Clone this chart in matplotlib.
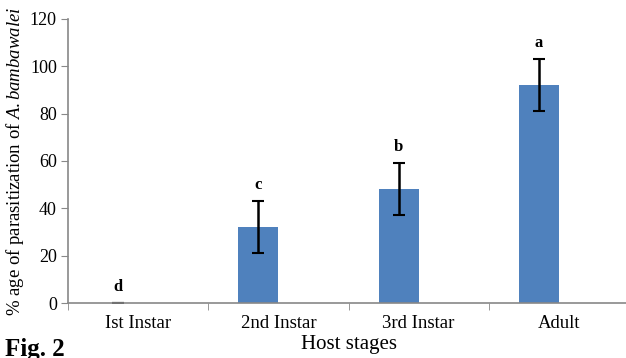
import numpy as np
import matplotlib.pyplot as plt

plt.rcParams['font.family'] = ['Liberation Serif', 'DejaVu Serif']
plt.rcParams['mathtext.fontset'] = 'custom'
plt.rcParams['mathtext.rm'] = 'Liberation Serif'
plt.rcParams['mathtext.it'] = 'Liberation Serif:italic'

stages = ['Ist Instar', '2nd Instar', '3rd Instar', 'Adult']
parasitism = [0, 32, 48, 92]
err = [0, 11, 11, 11]
letters = ['d', 'c', 'b', 'a']

fig = plt.figure(figsize=(6.26, 3.58), dpi=100)
ax = fig.add_axes([68/626, 1-303/358, 561/626, 284/358])

x = np.arange(len(stages))
w = 2/7
ax.bar(x - w/2, parasitism, width=w, color='#4F81BD',
       yerr=err, capsize=4, error_kw=dict(ecolor='black', elinewidth=1.8, capthick=1.5))
for xi, v, e, l in zip(x, parasitism, err, letters):
    ax.text(xi - w/2, v + e + 3.5, l, ha='center', va='bottom', fontsize=12, fontweight='bold')

ax.set_xlim(-0.5, 3.5)
ax.set_ylim(0, 120)
ax.set_yticks(range(0, 121, 20))
ax.set_xticks(x)
ax.set_xticklabels(stages)
ax.set_xticks(np.arange(-0.5, 3.6, 1), minor=True)
ax.tick_params(axis='x', which='major', length=0, pad=9, labelsize=13.5)
ax.tick_params(axis='x', which='minor', length=5, color='#888888')
ax.tick_params(axis='y', length=5, color='#888888', labelsize=13, pad=3)
for s in ['top', 'right']:
    ax.spines[s].set_visible(False)
for s in ['left', 'bottom']:
    ax.spines[s].set_color('#888888')
    ax.spines[s].set_linewidth(1.2)

ax.set_xlabel('Host stages', fontsize=15, labelpad=2)
ax.set_ylabel('% age of parasitization of $\\mathit{A.bambawalei}$', fontsize=13.5, labelpad=3)

fig.text(0.008, 1-338/358, 'Fig. 2', fontsize=18, fontweight='bold', va='top', ha='left')

fig.savefig('out.png', dpi=100)
